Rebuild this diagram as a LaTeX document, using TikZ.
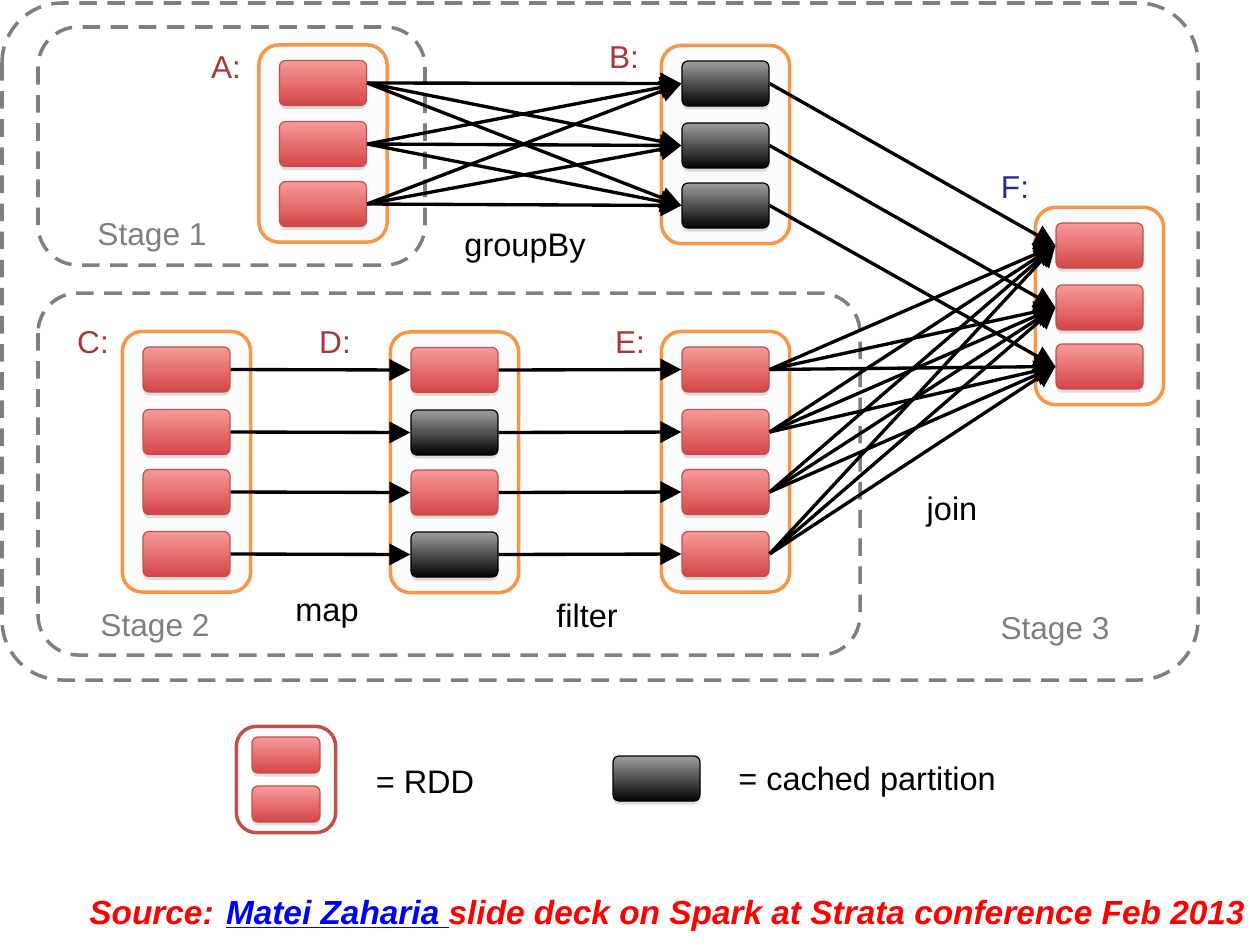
\documentclass[tikz,border=0pt]{standalone}
\usepackage{fontspec}
\setmainfont{Liberation Sans}
\usetikzlibrary{arrows.meta,fit,shadows}
\definecolor{rddorange}{HTML}{F79646}
\definecolor{stagegray}{HTML}{7F7F7F}
\definecolor{lblred}{HTML}{A8363A}
\definecolor{lblblue}{HTML}{2E2A8C}
\definecolor{ptop}{HTML}{F79A9A}
\definecolor{pbot}{HTML}{D44444}
\definecolor{pedge}{HTML}{C0504D}
\definecolor{srcred}{HTML}{FF0000}
\definecolor{srcblue}{HTML}{0000FF}
\pgfdeclarelayer{bgzero}
\pgfdeclarelayer{bgone}
\pgfsetlayers{bgzero,bgone,main}
\tikzset{
  partbase/.style={rectangle, rounded corners=0.12cm, minimum width=1.74cm, minimum height=0.9cm, line width=0.7pt,
    drop shadow={shadow xshift=0pt, shadow yshift=-2pt, opacity=0.25}},
  redp/.style={partbase, draw=pedge, top color=ptop, bottom color=pbot},
  blkp/.style={partbase, draw=black, top color=black!38, bottom color=black},
  rddbox/.style={draw=rddorange, line width=2pt, rounded corners=0.4cm, fill=black!1, inner xsep=0.4cm, inner ysep=0.3cm},
  stage/.style={draw=stagegray, line width=2pt, dash pattern=on 10pt off 6pt},
  conn/.style={line width=1.9pt, -{Triangle[length=12pt,width=12pt]}},
  lbl/.style={font=\fontsize{18}{21}\selectfont, text=lblred},
  txt/.style={font=\fontsize{18.5}{21}\selectfont, text=black},
  stg/.style={font=\fontsize{18}{21}\selectfont, text=stagegray},
}
\begin{document}
\begin{tikzpicture}[x=0.02cm, y=-0.02cm]
\useasboundingbox (0,0) rectangle (1250,944);

% partitions
\node[redp] (a1) at (323,83) {};
\node[redp] (a2) at (323,144) {};
\node[redp] (a3) at (323,204) {};
\node[blkp] (b1) at (725.5,83.5) {};
\node[blkp] (b2) at (725.5,145.5) {};
\node[blkp] (b3) at (725.5,205.5) {};
\node[redp] (f1) at (1099.5,245.5) {};
\node[redp] (f2) at (1099.5,307.5) {};
\node[redp] (f3) at (1099.5,366.5) {};
\node[redp] (c1) at (186.5,369.5) {};
\node[redp] (c2) at (186.5,432) {};
\node[redp] (c3) at (186.5,492) {};
\node[redp] (c4) at (186.5,554) {};
\node[redp] (d1) at (454.5,370) {};
\node[blkp] (d2) at (454.5,432.5) {};
\node[redp] (d3) at (454.5,492.5) {};
\node[blkp] (d4) at (454.5,554.5) {};
\node[redp] (e1) at (725.5,369.5) {};
\node[redp] (e2) at (725.5,432) {};
\node[redp] (e3) at (725.5,492) {};
\node[redp] (e4) at (725.5,554) {};

% legend partitions
\node[redp, minimum width=1.36cm, minimum height=0.72cm] (l1) at (286,755) {};
\node[redp, minimum width=1.36cm, minimum height=0.72cm] (l2) at (286,804) {};
\node[blkp] (lk) at (656.5,778.5) {};

\begin{pgfonlayer}{bgzero}
  \draw[stage, rounded corners=1.2cm] (2,3) rectangle (1198,680);
  \draw[stage, rounded corners=0.8cm] (38,27) rectangle (425,265);
  \draw[stage, rounded corners=0.8cm] (38,293) rectangle (860,655);
\end{pgfonlayer}
\begin{pgfonlayer}{bgone}
  \node[rddbox, fit=(a1)(a3)] (rA) {};
  \node[rddbox, fit=(b1)(b3)] (rB) {};
  \node[rddbox, fit=(f1)(f3)] (rF) {};
  \node[rddbox, fit=(c1)(c4)] (rC) {};
  \node[rddbox, fit=(d1)(d4)] (rD) {};
  \node[rddbox, fit=(e1)(e4)] (rE) {};
  \node[rddbox, draw=pedge, fill=white, inner xsep=0.3cm, inner ysep=0.2cm, fit=(l1)(l2)] (rL) {};
\end{pgfonlayer}

% connectors
\foreach \i in {1,2,3}{
  \foreach \j in {1,2,3}{
    \draw[conn] (a\i.east) -- (b\j.west);
  }
  \draw[conn] (b\i.east) -- (f\i.west);
}
\foreach \i in {1,2,3,4}{
  \draw[conn] (c\i.east) -- (d\i.west);
  \draw[conn] (d\i.east) -- (e\i.west);
  \foreach \j in {1,2,3}{
    \draw[conn] (e\i.east) -- (f\j.west);
  }
}

% labels
\node[lbl] (tA) at (226,68) {A:};
\node[lbl] (tB) at (624,58) {B:};
\node[lbl, text=lblblue] (tF) at (1015,188) {F:};
\node[lbl] (tC) at (93,343) {C:};
\node[lbl] (tD) at (335,343) {D:};
\node[lbl] (tE) at (630,343) {E:};
\node[stg] (s1) at (152,238) {Stage 1};
\node[stg] (s2) at (155,629) {Stage 2};
\node[stg] (s3) at (1055,632) {Stage 3};
\node[txt] (g) at (525,249) {groupBy};
\node[txt] (m) at (327,616) {map};
\node[txt] (fl) at (587,616) {filter};
\node[txt] (j) at (952,512) {join};
\node[txt] (lr) at (425,782) {= RDD};
\node[txt] (lc) at (867,782) {= cached partition};
\node[anchor=west, font=\fontsize{19}{22}\selectfont\bfseries\itshape, inner sep=0pt] (src) at (89,916)
  {\textcolor{srcred}{Source: }\textcolor{srcblue}{\underline{Matei Zaharia\ }}\textcolor{srcred}{slide deck on Spark at Strata conference Feb 2013}};
\end{tikzpicture}
\end{document}
